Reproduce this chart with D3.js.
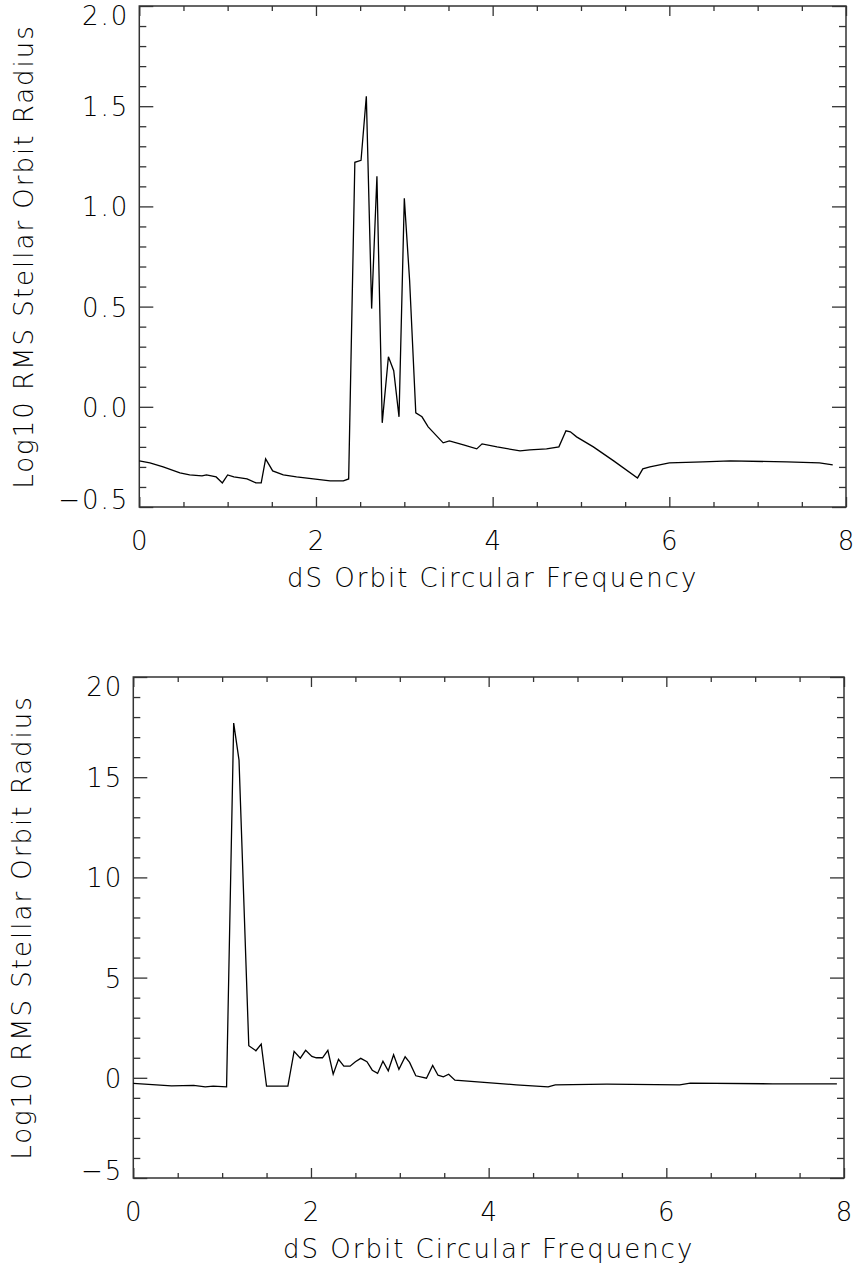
<!DOCTYPE html>
<meta charset="utf-8">
<!-- Log10 RMS stellar orbit radius vs dS orbit circular frequency, two panels -->
<style>body { margin: 0; } svg { display: block; }</style>
<svg width="857" height="1268"></svg>
<script src="https://d3js.org/d3.v7.min.js"></script>
<script>
// panel 1 (top)
const topFreq = [0, 0.12, 0.27, 0.46, 0.57, 0.71, 0.76, 0.87, 0.94, 1.0, 1.07, 1.22, 1.32, 1.38, 1.43,
  1.51, 1.63, 1.78, 1.97, 2.16, 2.31, 2.37, 2.44, 2.51, 2.57, 2.63, 2.69, 2.75, 2.82, 2.88,
  2.94, 3.0, 3.06, 3.13, 3.2, 3.27, 3.44, 3.51, 3.67, 3.82, 3.88, 4.05, 4.31, 4.42, 4.61,
  4.75, 4.83, 4.88, 4.95, 5.14, 5.37, 5.64, 5.70, 5.78, 6.0, 6.38, 6.69, 7.33, 7.70, 7.85];
const topRadius = [-0.27, -0.28, -0.30, -0.33, -0.34, -0.345, -0.34, -0.35, -0.38, -0.34, -0.35, -0.36, -0.38, -0.38, -0.26,
  -0.32, -0.34, -0.35, -0.36, -0.37, -0.37, -0.36, 1.22, 1.23, 1.55, 0.49, 1.15, -0.08, 0.25, 0.18,
  -0.05, 1.04, 0.63, -0.03, -0.05, -0.10, -0.18, -0.17, -0.19, -0.21, -0.185, -0.20, -0.22, -0.215, -0.21,
  -0.20, -0.12, -0.125, -0.15, -0.20, -0.27, -0.355, -0.31, -0.30, -0.28, -0.275, -0.27, -0.275, -0.28, -0.29];
const topYTicks = [-0.5, 0.0, 0.5, 1.0, 1.5, 2.0];

// panel 2 (bottom)
const botFreq = [0, 0.43, 0.68, 0.81, 0.9, 1.05, 1.13, 1.19, 1.30, 1.38, 1.44, 1.50, 1.74, 1.81, 1.88,
  1.94, 2.01, 2.06, 2.13, 2.19, 2.25, 2.31, 2.37, 2.44, 2.50, 2.56, 2.63, 2.69, 2.75, 2.81,
  2.87, 2.93, 2.99, 3.06, 3.11, 3.18, 3.30, 3.37, 3.43, 3.49, 3.55, 3.62, 4.31, 4.67, 4.75,
  5.33, 6.15, 6.27, 7.2, 7.92];
const botRadius = [-0.28, -0.4, -0.38, -0.45, -0.42, -0.45, 17.7, 15.85, 1.6, 1.35, 1.68, -0.42, -0.42, 1.32, 0.98,
  1.37, 1.07, 1.0, 1.0, 1.37, 0.18, 0.92, 0.58, 0.58, 0.8, 0.97, 0.8, 0.38, 0.22, 0.83,
  0.35, 1.15, 0.42, 1.05, 0.77, 0.1, -0.02, 0.62, 0.13, 0.05, 0.18, -0.12, -0.35, -0.45, -0.35,
  -0.32, -0.35, -0.27, -0.3, -0.3];
const botYTicks = [-5, 0, 5, 10, 15, 20];

const xTicks = [0, 2, 4, 6, 8];
const xTitle = "dS Orbit Circular Frequency";
const yTitle = "Log10 RMS Stellar Orbit Radius";

const svg = d3.select("svg");
svg.append("rect").attr("width", 857).attr("height", 1268).attr("fill", "#fff");

const font = "DejaVu Sans";

function label(sel) {
  return sel.attr("font-family", font).attr("font-weight", 200).attr("font-size", 26)
    .attr("letter-spacing", 2).attr("fill", "#000");
}

function panel(o) {
  const x = d3.scaleLinear().domain([0, 8]).range([o.left, o.right]);
  const y = d3.scaleLinear().domain([o.yTicks[0], o.yTicks[o.yTicks.length - 1]]).range([o.bottom, o.top]);
  const g = svg.append("g");

  const xMinor = d3.range(0, 8.001, 0.5).filter(v => v % 2 !== 0);
  const yMinor = d3.range(y.domain()[0], y.domain()[1] + o.yStep / 2, o.yStep)
    .filter(v => !o.yTicks.some(t => Math.abs(t - v) < 1e-6));

  // ticks on all four sides, pointing inward
  const axes = [
    [d3.axisBottom(x), `translate(0,${o.bottom})`, -10, -5, xTicks, xMinor],
    [d3.axisTop(x), `translate(0,${o.top})`, -10, -5, xTicks, xMinor],
    [d3.axisLeft(y), `translate(${o.left},0)`, -14, -7, o.yTicks, yMinor],
    [d3.axisRight(y), `translate(${o.right},0)`, -14, -7, o.yTicks, yMinor]
  ];
  axes.forEach(([ax, tr, maj, min, majV, minV]) => {
    g.append("g").attr("transform", tr)
      .call(ax.tickValues(majV).tickSize(maj).tickSizeOuter(0).tickFormat(""));
    g.append("g").attr("transform", tr)
      .call(ax.tickValues(minV).tickSize(min).tickSizeOuter(0).tickFormat(""));
  });
  g.selectAll(".domain").remove();
  g.selectAll(".tick line").attr("stroke", "#333").attr("stroke-width", 1.3);

  g.append("rect")
    .attr("x", o.left).attr("y", o.top)
    .attr("width", o.right - o.left).attr("height", o.bottom - o.top)
    .attr("fill", "none").attr("stroke", "#333").attr("stroke-width", 1.5);

  // labels
  g.selectAll(".xl").data(xTicks).enter().append("text")
    .attr("x", d => x(d) + 1).attr("y", o.bottom + 34)
    .attr("text-anchor", "middle").attr("dominant-baseline", "central")
    .call(label)
    .text(d => d);
  // end labels are nudged inward, like the original plot
  const n = o.yTicks.length;
  g.selectAll(".yl").data(o.yTicks).enter().append("text")
    .attr("x", o.left - 10)
    .attr("y", (d, i) => y(d) + (i === 0 ? -7 : i === n - 1 ? 10 : 1))
    .attr("text-anchor", "end").attr("dominant-baseline", "central")
    .call(label)
    .text(d => o.fmt(d).replace("-", "\u2212"));

  g.append("text")
    .attr("x", (o.left + o.right) / 2).attr("y", o.bottom + 71)
    .attr("text-anchor", "middle").attr("dominant-baseline", "central")
    .call(label)
    .text(xTitle);
  g.append("text")
    .attr("transform", `translate(${o.yTitleX},${(o.top + o.bottom) / 2}) rotate(-90)`)
    .attr("text-anchor", "middle").attr("dominant-baseline", "central")
    .call(label)
    .text(yTitle);

  const line = d3.line().x(d => x(d[0])).y(d => y(d[1]));
  g.append("path")
    .datum(d3.zip(o.xs, o.ys))
    .attr("d", line)
    .attr("fill", "none").attr("stroke", "#000").attr("stroke-width", 1.3)
    .attr("stroke-linejoin", "miter");
}

panel({ left: 139.3, right: 846, top: 6, bottom: 507, yTicks: topYTicks, yStep: 0.1,
  fmt: d3.format(".1f"), xs: topFreq, ys: topRadius, yTitleX: 24 });
panel({ left: 133.3, right: 844, top: 677, bottom: 1178, yTicks: botYTicks, yStep: 1,
  fmt: d3.format("d"), xs: botFreq, ys: botRadius, yTitleX: 22 });
</script>
